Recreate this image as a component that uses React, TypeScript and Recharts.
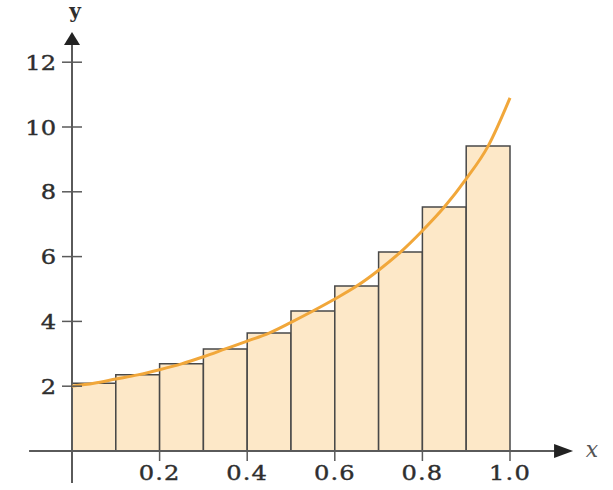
import { LineChart, Line, XAxis, YAxis, ReferenceArea, ReferenceLine, ReferenceDot } from 'recharts'

// rectangles: left/right edges on x, heights
const barEdges = [0, 0.1, 0.2, 0.3, 0.4, 0.5, 0.6, 0.7, 0.8, 0.9, 1.0]
const barHeights = [2.09, 2.35, 2.69, 3.15, 3.64, 4.32, 5.09, 6.14, 7.53, 9.41]

// orange curve, sampled every 0.05
const curveX = [0, 0.05, 0.1, 0.15, 0.2, 0.25, 0.3, 0.35, 0.4, 0.45, 0.5, 0.55, 0.6, 0.65, 0.7, 0.75, 0.8, 0.85, 0.9, 0.95, 1.0]
const curveY = [2.0, 2.09, 2.22, 2.35, 2.51, 2.69, 2.91, 3.15, 3.39, 3.64, 3.97, 4.32, 4.69, 5.09, 5.58, 6.14, 6.8, 7.53, 8.4, 9.41, 10.9]

const xTicks = [0.2, 0.4, 0.6, 0.8, 1.0]
const yTicks = [2, 4, 6, 8, 10, 12]

const curve = curveX.map((x, i) => ({ x, y: curveY[i] }))

const AXIS = '#5a5a5a'
const TEXT = '#2e2e2e'
const FONT = '"DejaVu Serif", serif'

function XTick({ x, y, payload }: any) {
  return (
    <g>
      <line x1={x} y1={y} x2={x} y2={y + 10} stroke={AXIS} strokeWidth={1.5} />
      <text
        transform={`translate(${x},${y + 29}) scale(1.15,1)`}
        textAnchor="middle"
        fill={TEXT}
        stroke={TEXT}
        strokeWidth={0.4}
        fontFamily={FONT}
        fontSize={21}
        letterSpacing={1}
      >
        {payload.value.toFixed(1)}
      </text>
    </g>
  )
}

function YTick({ x, y, payload }: any) {
  return (
    <g>
      <line x1={x - 10} y1={y} x2={x + 10} y2={y} stroke={AXIS} strokeWidth={1.5} />
      <text
        transform={`translate(${x - 16},${y + 7.5}) scale(1.15,1)`}
        textAnchor="end"
        fill={TEXT}
        stroke={TEXT}
        strokeWidth={0.4}
        fontFamily={FONT}
        fontSize={21}
      >
        {payload.value}
      </text>
    </g>
  )
}

const UpArrow = ({ cx, cy }: any) => (
  <g>
    <polygon points={`${cx},${cy} ${cx - 8},${cy + 13} ${cx + 8},${cy + 13}`} fill="#222" />
    <text x={cx + 3} y={cy - 14} textAnchor="middle" fill={TEXT} fontFamily={FONT} fontSize={20} fontWeight="bold">
      y
    </text>
  </g>
)

const RightArrow = ({ cx, cy }: any) => (
  <g>
    <polygon points={`${cx},${cy} ${cx - 19},${cy - 7} ${cx - 19},${cy + 7}`} fill="#222" />
    <text x={cx + 19} y={cy + 6} textAnchor="middle" fill="#555" fontFamily={FONT} fontSize={22} fontStyle="italic">
      x
    </text>
  </g>
)

export default function App() {
  return (
    <div style={{ position: 'absolute', left: 0, top: 0, background: '#fff' }}>
      <LineChart width={613} height={490} data={curve} margin={{ top: 29.8, right: 15.4, bottom: 0, left: 0 }}>
        <XAxis
          dataKey="x"
          type="number"
          domain={[0, 1.2]}
          ticks={xTicks}
          interval={0}
          axisLine={false}
          tickLine={false}
          tickSize={0}
          tickMargin={0}
          height={39}
          tick={<XTick />}
        />
        <YAxis
          type="number"
          domain={[0, 13]}
          ticks={yTicks}
          interval={0}
          axisLine={false}
          tickLine={false}
          tickSize={0}
          tickMargin={0}
          width={72}
          tick={<YTick />}
        />
        {barHeights.map((h, i) => (
          <ReferenceArea
            key={i}
            x1={barEdges[i]}
            x2={barEdges[i + 1]}
            y1={0}
            y2={h}
            fill="#fde8c8"
            fillOpacity={1}
            stroke="#484848"
            strokeWidth={1.5}
            ifOverflow="visible"
          />
        ))}
        <ReferenceLine segment={[{ x: -0.098, y: 0 }, { x: 1.11, y: 0 }]} stroke={AXIS} strokeWidth={2} ifOverflow="visible" />
        <ReferenceLine segment={[{ x: 0, y: -0.99 }, { x: 0, y: 12.6 }]} stroke={AXIS} strokeWidth={2} ifOverflow="visible" />
        <ReferenceDot x={0} y={12.93} r={0} shape={<UpArrow />} ifOverflow="visible" />
        <ReferenceDot x={1.144} y={0} r={0} shape={<RightArrow />} ifOverflow="visible" />
        <Line
          type="monotone"
          dataKey="y"
          stroke="#f1a73a"
          strokeWidth={3}
          dot={false}
          activeDot={false}
          isAnimationActive={false}
        />
      </LineChart>
    </div>
  )
}
